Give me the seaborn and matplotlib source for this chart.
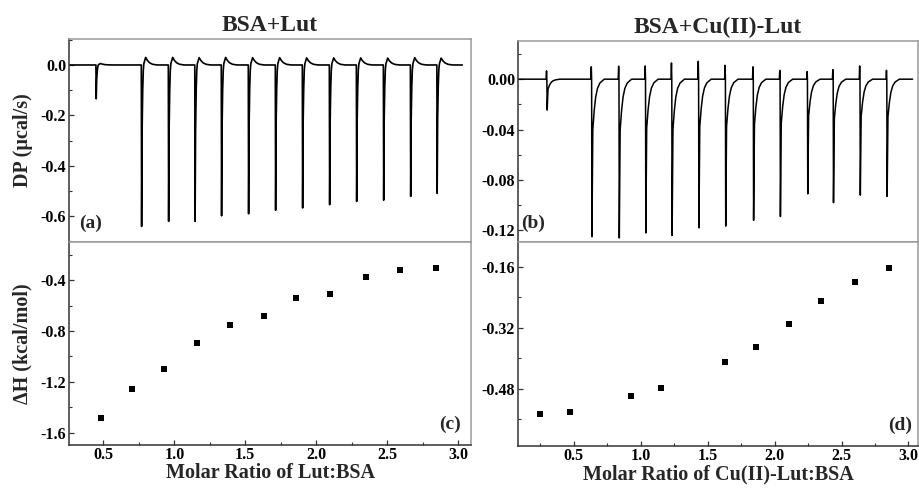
import numpy as np
import pandas as pd
import matplotlib
matplotlib.use("Agg")
import matplotlib.pyplot as plt
import seaborn as sns
from matplotlib.ticker import MultipleLocator, FormatStrFormatter

# ---------------- data ----------------
# (a) BSA+Lut raw thermogram: injection times (min), peak minima (ucal/s), post-peak overshoot
inj_time_a = [5.0, 13.4, 18.4, 23.3, 28.2, 33.2, 38.2, 43.2, 48.2, 53.2, 58.2, 63.2, 68.1]
peak_dp_a = [-0.134, -0.640, -0.620, -0.620, -0.598, -0.590, -0.576, -0.567,
             -0.554, -0.541, -0.536, -0.521, -0.509]
overshoot_a = [0.006, 0.030, 0.030, 0.029, 0.030, 0.029, 0.029, 0.028,
               0.028, 0.028, 0.027, 0.029, 0.027]
end_time_a = 72.8

# (b) BSA+Cu(II)-Lut raw thermogram
inj_time_b = [5.4, 13.75, 18.85, 23.8, 28.7, 33.7, 38.7, 43.9, 48.9, 54.0, 58.8, 63.8, 68.8]
peak_dp_b = [-0.0245, -0.125, -0.126, -0.122, -0.124, -0.118, -0.1166, -0.112,
             -0.109, -0.091, -0.098, -0.092, -0.093]
upspike_b = [0.0066, 0.0098, 0.0103, 0.0105, 0.0129, 0.0142, 0.0110, 0.0098,
             0.0070, 0.0060, 0.0076, 0.0105, 0.0070]
end_time_b = 73.6

# (c) integrated heats BSA+Lut
ratio_c = [0.48, 0.70, 0.93, 1.16, 1.39, 1.63, 1.86, 2.10, 2.35, 2.59, 2.84]
dH_c = [-1.482, -1.259, -1.097, -0.895, -0.751, -0.680, -0.539, -0.510, -0.379, -0.324, -0.308]

# (d) integrated heats BSA+Cu(II)-Lut
ratio_d = [0.25, 0.47, 0.93, 1.15, 1.63, 1.86, 2.11, 2.35, 2.60, 2.855]
dH_d = [-0.547, -0.540, -0.499, -0.478, -0.410, -0.370, -0.310, -0.250, -0.201, -0.163]

# ---------------- peak shape templates (relative) ----------------
shape_a_dt = [-0.02, 0.04, 0.10, 0.20, 0.32, 0.42]
shape_a_fr = [0.0, 1.0, 0.50, 0.22, 0.05, 0.0]
over_a_dt = [0.38, 0.78, 1.05, 1.45, 2.0, 2.8]
over_a_fr = [0.0, 1.0, 0.65, 0.32, 0.10, 0.0]

shape_b_dt = [-0.02, 0.04, 0.18, 0.40, 0.70, 1.05, 1.50, 2.30]
shape_b_fr = [0.0, 1.0, 0.33, 0.22, 0.12, 0.06, 0.025, 0.0]
up_b_dt = [-0.16, -0.08, -0.02]
up_b_fr = [0.0, 1.0, 0.0]


def build_trace(times, depths, extra, end, sdt, sfr, edt, efr):
    t = np.arange(0.0, end, 0.01)
    y = np.zeros_like(t)
    for t0, d, e in zip(times, depths, extra):
        y += d * np.interp(t - t0, sdt, sfr, left=0.0, right=0.0)
        y += e * np.interp(t - t0, edt, efr, left=0.0, right=0.0)
    return pd.DataFrame({"time": t, "dp": y})


trace_a = build_trace(inj_time_a, peak_dp_a, overshoot_a, end_time_a,
                      shape_a_dt, shape_a_fr, over_a_dt, over_a_fr)
trace_b = build_trace(inj_time_b, peak_dp_b, upspike_b, end_time_b,
                      shape_b_dt, shape_b_fr, up_b_dt, up_b_fr)
heat_c = pd.DataFrame({"ratio": ratio_c, "dH": dH_c})
heat_d = pd.DataFrame({"ratio": ratio_d, "dH": dH_d})

# ---------------- style ----------------
sns.set_style("ticks")
plt.rcParams["font.family"] = ["Liberation Serif", "DejaVu Serif"]
plt.rcParams["font.weight"] = "bold"
plt.rcParams["axes.labelweight"] = "bold"
plt.rcParams["axes.titleweight"] = "bold"
plt.rcParams["axes.unicode_minus"] = False

W, H = 919, 492
fig = plt.figure(figsize=(W / 100, H / 100), dpi=100)


def px_axes(x0, y0, x1, y1):
    return fig.add_axes([x0 / W, 1 - y1 / H, (x1 - x0) / W, (y1 - y0) / H])


ax_a = px_axes(69, 39, 471, 242)
ax_c = px_axes(69, 242, 471, 445)
ax_b = px_axes(518, 41, 918, 242)
ax_d = px_axes(518, 242, 918, 446)

DARK = "#333333"
LIGHT = "#9a9a9a"

for ax in (ax_a, ax_b, ax_c, ax_d):
    for s in ("top", "right"):
        ax.spines[s].set_color(LIGHT)
        ax.spines[s].set_visible(True)
    ax.spines["left"].set_color(DARK)
    ax.spines["bottom"].set_color(DARK)
    for s in ax.spines.values():
        s.set_linewidth(1.1)
    ax.tick_params(which="major", direction="in", length=3.5, width=0.9,
                   labelsize=11.5, pad=2, colors=DARK, labelcolor="black")
    ax.tick_params(which="minor", direction="in", length=2, width=0.8, colors=DARK)

# top panels
sns.lineplot(data=trace_a, x="time", y="dp", ax=ax_a, color="black", lw=1.2,
             estimator=None, sort=False)
sns.lineplot(data=trace_b, x="time", y="dp", ax=ax_b, color="black", lw=1.1,
             estimator=None, sort=False)
for ax in (ax_a, ax_b):
    ax.spines["bottom"].set_color(LIGHT)
    ax.tick_params(axis="x", which="both", bottom=False, labelbottom=False)
    ax.set_xlabel("")
ax_a.set_xlim(0, 74.4)
ax_b.set_xlim(0, 74.6)
ax_a.set_ylim(-0.702, 0.103)
ax_b.set_ylim(-0.1292, 0.0303)
ax_a.yaxis.set_major_locator(MultipleLocator(0.2))
ax_a.yaxis.set_minor_locator(MultipleLocator(0.1))
ax_a.yaxis.set_major_formatter(FormatStrFormatter("%.1f"))
ax_b.yaxis.set_major_locator(MultipleLocator(0.04))
ax_b.yaxis.set_minor_locator(MultipleLocator(0.02))
ax_b.yaxis.set_major_formatter(FormatStrFormatter("%.2f"))

ax_a.set_title("BSA+Lut", fontsize=17, fontweight="bold", pad=6)
ax_b.set_title("BSA+Cu(II)-Lut", fontsize=17, fontweight="bold", pad=6)
ax_a.set_ylabel("DP (\u00b5cal/s)", fontsize=14.5, fontweight="bold")
ax_b.set_ylabel("")

# bottom panels
sns.scatterplot(data=heat_c, x="ratio", y="dH", ax=ax_c, marker="s", s=16,
                color="black", edgecolor="black", linewidth=0)
sns.scatterplot(data=heat_d, x="ratio", y="dH", ax=ax_d, marker="s", s=16,
                color="black", edgecolor="black", linewidth=0)
ax_c.set_xlim(0.258, 3.09)
ax_d.set_xlim(0.084, 3.071)
ax_c.set_ylim(-1.697, -0.10)
ax_d.set_ylim(-0.630, -0.095)
for ax in (ax_c, ax_d):
    ax.xaxis.set_major_locator(MultipleLocator(0.5))
    ax.xaxis.set_minor_locator(MultipleLocator(0.25))
    ax.xaxis.set_major_formatter(FormatStrFormatter("%.1f"))
    ax.tick_params(axis="x", which="major", pad=1.5)
ax_c.yaxis.set_major_locator(MultipleLocator(0.4))
ax_c.yaxis.set_minor_locator(MultipleLocator(0.2))
ax_c.yaxis.set_major_formatter(FormatStrFormatter("%.1f"))
ax_d.yaxis.set_major_locator(MultipleLocator(0.16))
ax_d.yaxis.set_minor_locator(MultipleLocator(0.08))
ax_d.yaxis.set_major_formatter(FormatStrFormatter("%.2f"))

ax_c.set_xlabel("Molar Ratio of Lut:BSA", fontsize=14.5, fontweight="bold", labelpad=0)
ax_d.set_xlabel("Molar Ratio of Cu(II)-Lut:BSA", fontsize=14.5, fontweight="bold", labelpad=0)
ax_c.set_ylabel("\u0394H (kcal/mol)", fontsize=14.5, fontweight="bold")
ax_d.set_ylabel("")

for ax in (ax_a, ax_c):
    ax.yaxis.set_label_coords(-0.09, 0.5)

# panel letters
ax_a.text(0.025, 0.05, "(a)", transform=ax_a.transAxes, fontsize=14, fontweight="bold",
          ha="left", va="bottom")
ax_b.text(0.008, 0.05, "(b)", transform=ax_b.transAxes, fontsize=14, fontweight="bold",
          ha="left", va="bottom")
ax_c.text(0.975, 0.06, "(c)", transform=ax_c.transAxes, fontsize=14, fontweight="bold",
          ha="right", va="bottom")
ax_d.text(0.985, 0.06, "(d)", transform=ax_d.transAxes, fontsize=14, fontweight="bold",
          ha="right", va="bottom")

fig.savefig("out.png", dpi=100)
